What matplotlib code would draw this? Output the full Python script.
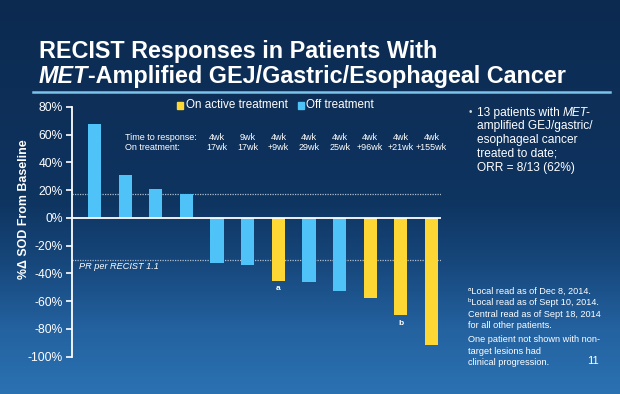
import numpy as np
import matplotlib
matplotlib.use("Agg")
import matplotlib.pyplot as plt
from matplotlib.patches import Rectangle
from matplotlib.lines import Line2D

# ---------------- data ----------------
values = [68, 31, 20.5, 17.3, -32.7, -33.6, -45.4, -46.2, -52.7, -57.8, -70.3, -91.4]
on_treatment = [False, False, False, False, False, False, True, False, False, True, True, True]
time_to_response = ["4wk", "9wk", "4wk", "4wk", "4wk", "4wk", "4wk", "4wk"]
on_treatment_dur = ["17wk", "17wk", "+9wk", "29wk", "25wk", "+96wk", "+21wk", "+155wk"]
footnote_marks = {6: "a", 10: "b"}
yticks = [80, 60, 40, 20, 0, -20, -40, -60, -80, -100]
pd_line = 17.5
pr_line = -30.5

W, H = 620, 394
BLUE = "#4fc3f7"
YELLOW = "#fdd835"
FONT = ["Liberation Sans", "DejaVu Sans"]
plt.rcParams["font.family"] = FONT

fig = plt.figure(figsize=(W / 100, H / 100), dpi=100)

# background gradient
bg = fig.add_axes([0, 0, 1, 1], zorder=-10)
ys = np.linspace(0, H, 400)
stops_y = [0, 200, 260, 330, 394]
cols = np.array([[12, 42, 80], [14, 52, 96], [22, 70, 122], [36, 98, 160], [43, 114, 178]]) / 255
grad = np.stack([np.interp(ys, stops_y, cols[:, i]) for i in range(3)], axis=-1)
grad = np.repeat(grad[:, None, :], 2, axis=1)
bg.imshow(grad, aspect="auto", extent=[0, 1, 0, 1], origin="upper")
bg.set_axis_off()


def P(x, y):
    return (x / W, 1 - y / H)


# title
fig.text(*P(39, 58.3), "RECIST Responses in Patients With", color="white",
         fontsize=16.8, fontweight="bold", va="baseline", ha="left")
t_met = fig.text(*P(39, 83), "MET", color="white", fontsize=16.8, fontweight="bold",
                 fontstyle="italic", va="baseline", ha="left")
fig.canvas.draw()
r = fig.canvas.get_renderer()
bb = t_met.get_window_extent(r)
fig.text(bb.x1 / W, 1 - 83 / H, "-Amplified GEJ/Gastric/Esophageal Cancer", color="white",
         fontsize=16.8, fontweight="bold", va="baseline", ha="left")
fig.add_artist(Line2D([32.7 / W, 610 / W], [1 - 92 / H, 1 - 92 / H], color="#7cc3ea", lw=1.8))

# main axes
ax_left, ax_right = 72, 441
y_top, y_bot = 106.9, 356.7
ax = fig.add_axes([ax_left / W, (H - y_bot) / H, (ax_right - ax_left) / W, (y_bot - y_top) / H])
ax.patch.set_alpha(0)
x = np.arange(len(values))
colors = [YELLOW if o else BLUE for o in on_treatment]
ax.bar(x, values, width=0.43, color=colors, zorder=3)
ax.set_xlim(-0.734, 11.31)
ax.set_ylim(-100, 80)
for s in ["top", "right", "bottom"]:
    ax.spines[s].set_visible(False)
ax.spines["left"].set_color("white")
ax.spines["left"].set_linewidth(1.3)
ax.set_xticks([])
ax.set_yticks(yticks)
ax.set_yticklabels([f"{v}%" for v in yticks])
ax.tick_params(axis="y", colors="white", labelsize=8.7, length=4, width=1.2, pad=2.8)
ax.axhline(0, color="white", lw=1.3, zorder=4)
ax.axhline(pd_line, color="#aebccb", lw=0.9, ls=(0, (1, 1)), zorder=2)
ax.axhline(pr_line, color="#aebccb", lw=0.9, ls=(0, (1, 1)), zorder=2)
ax.text(0.02, (pr_line - 4.5 - (-100)) / 180, "PR per RECIST 1.1", transform=ax.transAxes,
        color="white", fontsize=6.6, fontstyle="italic", va="center", ha="left")
for i, m in footnote_marks.items():
    ax.text(i, values[i] - 5.5, m, color="white", fontsize=6, fontweight="bold",
            ha="center", va="center")

# time to response table
fig.text(*P(125, 137), "Time to response:", color="white", fontsize=6.5, va="center", ha="left")
fig.text(*P(125, 148), "On treatment:", color="white", fontsize=6.5, va="center", ha="left")
for k, (tr, ot) in enumerate(zip(time_to_response, on_treatment_dur)):
    xi = 4 + k
    xd = ax.transData.transform((xi, 0))[0]
    fig.text(xd / W, 1 - 137 / H, tr, color="white", fontsize=6.5, va="center", ha="center")
    fig.text(xd / W, 1 - 148 / H, ot, color="white", fontsize=6.5, va="center", ha="center")

# y label
fig.text(*P(24, 209), "%Δ SOD From Baseline", color="white", fontsize=8.9, fontweight="bold",
         rotation=90, va="center", ha="center")

# legend
fig.add_artist(Rectangle(P(176.7, 109), 6 / W, 7 / H, color=YELLOW, transform=fig.transFigure))
fig.text(*P(186, 105.5), "On active treatment", color="white", fontsize=8.4, va="center", ha="left")
fig.add_artist(Rectangle(P(297.7, 109), 6 / W, 7 / H, color=BLUE, transform=fig.transFigure))
fig.text(*P(306.5, 105.5), "Off treatment", color="white", fontsize=8.4, va="center", ha="left")

# right-hand text
fig.text(*P(469, 112), "•", color="#d0d8e0", fontsize=7, va="center", ha="left")
t1 = fig.text(*P(477, 113), "13 patients with ", color="white", fontsize=8.6, va="center", ha="left")
fig.canvas.draw()
bb = t1.get_window_extent(fig.canvas.get_renderer())
fig.text(bb.x1 / W, 1 - 113 / H, "MET-", color="white", fontsize=8.6, fontstyle="italic",
         va="center", ha="left")
for yy, line in zip([126.5, 140, 154, 168],
                    ["amplified GEJ/gastric/", "esophageal cancer", "treated to date;", "ORR = 8/13 (62%)"]):
    fig.text(*P(477, yy), line, color="white", fontsize=8.6, va="center", ha="left")

foot = [(291, "ᵃLocal read as of Dec 8, 2014."),
        (302.7, "ᵇLocal read as of Sept 10, 2014."),
        (314.3, "Central read as of Sept 18, 2014"),
        (326, "for all other patients."),
        (339.5, "One patient not shown with non-"),
        (351, "target lesions had"),
        (362.5, "clinical progression.")]
for yy, line in foot:
    fig.text(*P(468, yy), line, color="white", fontsize=6.6, va="center", ha="left")
fig.text(*P(599, 361.5), "11", color="white", fontsize=8, va="center", ha="right")

fig.savefig("out.png", dpi=100)
